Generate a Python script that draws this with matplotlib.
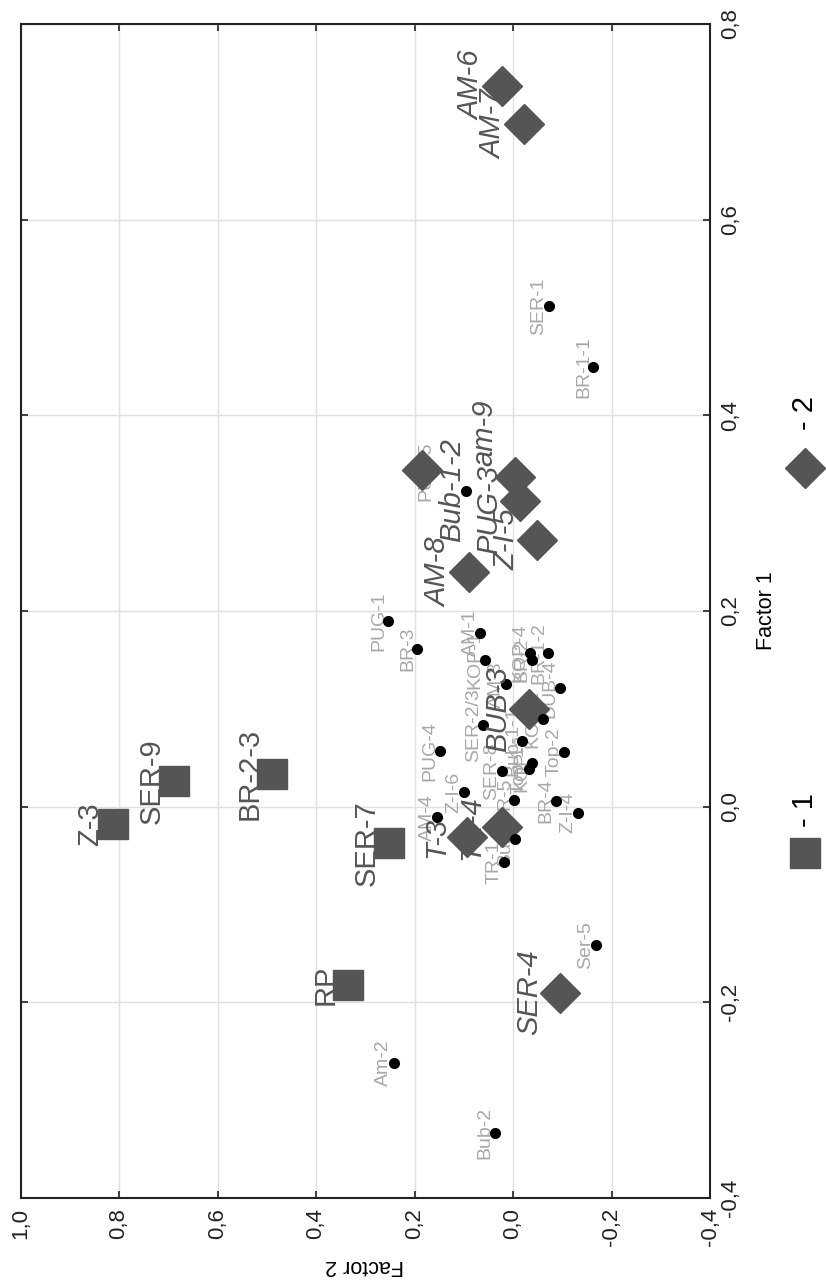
import matplotlib.pyplot as plt
from matplotlib.lines import Line2D

plt.rcParams['font.family'] = ['Liberation Sans', 'DejaVu Sans']

# group 1 (squares)
g1_names = ['Z-3', 'SER-9', 'BR-2-3', 'SER-7', 'RP']
g1_f1 = [-0.018, 0.026, 0.033, -0.037, -0.182]
g1_f2 = [0.813, 0.688, 0.489, 0.252, 0.336]

# group 2 (diamonds)
g2_names = ['AM-6', 'AM-7', 'Bub-1-2', 'am-9', 'PUG-3', 'Z-I-5', 'AM-8',
            'BUB-3', 'T-3', 'TR-4', 'SER-4']
g2_f1 = [0.737, 0.698, 0.344, 0.337, 0.312, 0.273, 0.240,
         0.100, -0.031, -0.021, -0.190]
g2_f2 = [0.023, -0.022, 0.185, -0.004, -0.014, -0.049, 0.089,
         -0.033, 0.093, 0.022, -0.095]

# other samples (dots)
dot_names = ['SER-1', 'BR-1-1', 'PUG-5', 'PUG-1', 'BR-3', 'AM-1', 'KOP-1',
             'KOP-4', 'BR-2', 'BR-1-2', 'AM-3', 'DUB-4', 'KOP-2', 'SER-2/3',
             'Bub-1-1', 'PUG-4', 'Top-2', 'KOP-3', 'Top-1', 'SER-8', 'Z-I-6',
             'BR-5', 'BR-4', 'Z-I-4', 'AM-4', 'Bub-3', 'TR-1', 'Ser-5',
             'Am-2', 'Bub-2']
dot_f1 = [0.512, 0.449, 0.323, 0.190, 0.161, 0.178, 0.150,
          0.157, 0.150, 0.157, 0.125, 0.121, 0.090, 0.083,
          0.067, 0.057, 0.056, 0.045, 0.038, 0.036, 0.015,
          0.007, 0.006, -0.006, -0.011, -0.033, -0.057, -0.141,
          -0.262, -0.334]
dot_f2 = [-0.073, -0.163, 0.095, 0.253, 0.194, 0.067, 0.057,
          -0.035, -0.038, -0.072, 0.014, -0.095, -0.060, 0.060,
          -0.019, 0.148, -0.104, -0.038, -0.033, 0.023, 0.099,
          -0.003, -0.087, -0.132, 0.154, -0.004, 0.018, -0.168,
          0.242, 0.037]

f1_ticks = [-0.4, -0.2, 0.0, 0.2, 0.4, 0.6, 0.8]
f2_ticks = [1.0, 0.8, 0.6, 0.4, 0.2, 0.0, -0.2, -0.4]

dark = '#555555'
light = '#a8a8a8'

# a few labels sit away from their usual spot in the original (points, x / y)
nudge = {'Bub-1-2': (44, -14), 'PUG-5': (-22, 14), 'am-9': (0, 32),
         'PUG-3': (0, -6)}


def fmt(v):
    return f"{v:.1f}".replace('.', ',').replace('-0,0', '0,0')


def put_label(ax, n, x, y, off, **kw):
    dx, dy = nudge.get(n, (0, 0))
    ax.annotate(n, (x, y), xytext=(off + dx, dy), textcoords='offset points',
                rotation=90, ha='right', va='center', **kw)


fig = plt.figure(figsize=(8.26, 12.82), dpi=100)
# chart is drawn turned a quarter turn: Factor 2 runs horizontally, Factor 1 vertically
ax = fig.add_axes([20.5 / 826, 84 / 1282, 689.5 / 826, 1174 / 1282])

for n, x, y in zip(dot_names, dot_f2, dot_f1):
    put_label(ax, n, x, y, -1, color=light, fontsize=14, zorder=2)

ax.plot(g1_f2, g1_f1, 's', color=dark, ms=21, mec=dark, zorder=3)
ax.plot(g2_f2, g2_f1, 'D', color=dark, ms=20, mec=dark, zorder=3)
ax.plot(dot_f2, dot_f1, 'o', color='black', ms=7, zorder=4)

for n, x, y in zip(g1_names, g1_f2, g1_f1):
    put_label(ax, n, x, y, -6, color=dark, fontsize=21, zorder=5)
for n, x, y in zip(g2_names, g2_f2, g2_f1):
    put_label(ax, n, x, y, -12, color=dark, fontsize=21,
              fontstyle='italic', zorder=5)

ax.set_xlim(1.0, -0.4)
ax.set_ylim(-0.4, 0.8)
ax.set_xticks(f2_ticks)
ax.set_xticklabels([fmt(v) for v in f2_ticks], rotation=90, ha='center', va='top')
ax.set_yticks(f1_ticks)
ax.set_yticklabels([fmt(v) for v in f1_ticks], rotation=90, ha='left', va='center')
ax.tick_params(direction='in', length=5, width=1.2, top=True, bottom=True,
               left=True, right=True, labelleft=False, labelright=True,
               labelbottom=True, labelsize=16, pad=7, colors='#222222')
ax.grid(True, color='#e0e0e0', lw=1)
ax.set_axisbelow(True)
for s in ax.spines.values():
    s.set_linewidth(1.5)
    s.set_color('#222222')

fig.text(365 / 826, 1 - 1266 / 1282, 'Factor 2', rotation=180,
         ha='center', va='center', fontsize=15.5)
fig.text(766 / 826, 1 - 611 / 1282, 'Factor 1', rotation=90,
         ha='center', va='center', fontsize=15.5)

# legend, turned like the rest
fig.add_artist(Line2D([805 / 826], [1 - 853 / 1282], marker='s', ms=21,
                      color=dark, transform=fig.transFigure))
fig.text(805 / 826, 1 - 810 / 1282, '- 1', rotation=90, ha='center',
         va='center', fontsize=21)
fig.add_artist(Line2D([805 / 826], [1 - 468 / 1282], marker='D', ms=20,
                      color=dark, transform=fig.transFigure))
fig.text(805 / 826, 1 - 413 / 1282, '- 2', rotation=90, ha='center',
         va='center', fontsize=21)

fig.savefig('out.png', dpi=100)
